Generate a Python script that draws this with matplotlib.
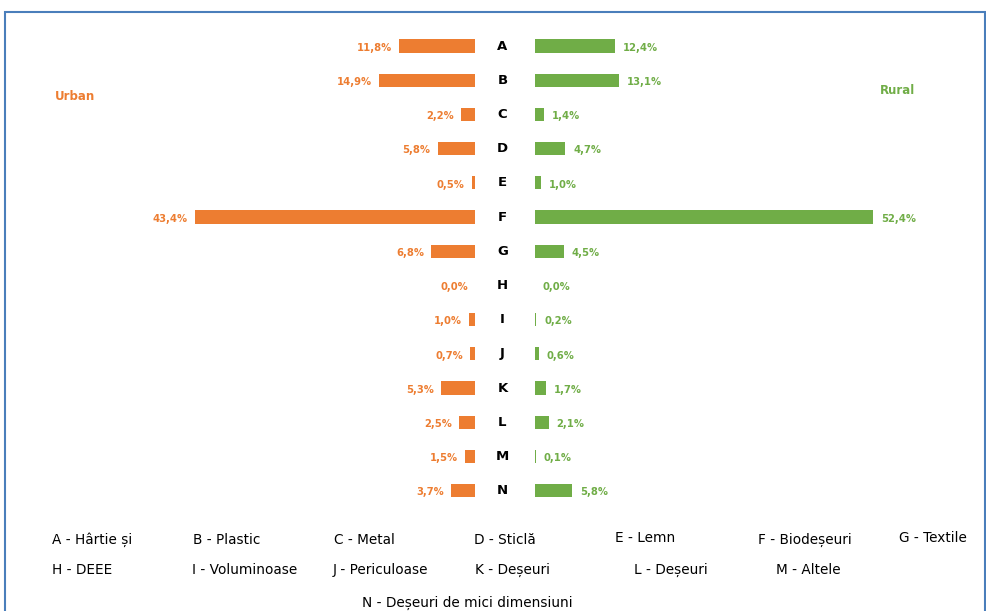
import matplotlib.pyplot as plt
from matplotlib.patches import Rectangle

# date: ponderea fracțiilor de deșeuri (%)
categorii = ["A", "B", "C", "D", "E", "F", "G", "H", "I", "J", "K", "L", "M", "N"]
urban = [11.8, 14.9, 2.2, 5.8, 0.5, 43.4, 6.8, 0.0, 1.0, 0.7, 5.3, 2.5, 1.5, 3.7]
rural = [12.4, 13.1, 1.4, 4.7, 1.0, 52.4, 4.5, 0.0, 0.2, 0.6, 1.7, 2.1, 0.1, 5.8]

legenda_r1 = ["A - Hârtie și", "B - Plastic", "C - Metal", "D - Sticlă", "E - Lemn", "F - Biodeșeuri", "G - Textile"]
legenda_r2 = ["H - DEEE", "I - Voluminoase", "J - Periculoase", "K - Deșeuri", "L - Deșeuri", "M - Altele"]
legenda_r3 = "N - Deșeuri de mici dimensiuni"

portocaliu = "#ED7D31"
verde = "#70AD47"

def fmt(v):
    return f"{v:.1f}%".replace(".", ",")

fig = plt.figure(figsize=(9.86, 6.11), dpi=100)
ax = fig.add_axes([0, 0, 1, 1])

# 1% = 6.45 px, centrul la x=505 px
scala = 6.45
gap = 30 / scala
ax.set_xlim(-505 / scala, 481 / scala)
ax.set_ylim((611 - 46) / 34.2, -46 / 34.2)
ax.axis("off")

y = list(range(len(categorii)))
ax.barh(y, urban, left=[-gap - u for u in urban], height=0.39, color=portocaliu)
ax.barh(y, rural, left=gap, height=0.39, color=verde)

for i, c in enumerate(categorii):
    ax.text(-0.4, i, c, ha="center", va="center", fontsize=9.5, fontweight="bold", color="black")
    ax.text(-gap - urban[i] - 1.1, i + 0.05, fmt(urban[i]), ha="right", va="center",
            fontsize=7.2, fontweight="bold", color=portocaliu)
    ax.text(gap + rural[i] + 1.2, i + 0.05, fmt(rural[i]), ha="left", va="center",
            fontsize=7.2, fontweight="bold", color=verde)

fig.text(55 / 986, 1 - 97 / 611, "Urban", color=portocaliu, fontsize=8.5, fontweight="bold", va="center")
fig.text(880 / 986, 1 - 91 / 611, "Rural", color=verde, fontsize=8.5, fontweight="bold", va="center")

# legenda de jos
x1 = [52, 193, 334, 474, 615, 758, 899]
y1 = [540, 540, 540, 540, 538, 540, 538]
for t, xx, yy in zip(legenda_r1, x1, y1):
    fig.text(xx / 986, 1 - yy / 611, t, fontsize=9.8, va="center")
x2 = [52, 192, 333, 475, 634, 776]
for t, xx in zip(legenda_r2, x2):
    fig.text(xx / 986, 1 - 570 / 611, t, fontsize=9.8, va="center")
fig.text(362 / 986, 1 - 603 / 611, legenda_r3, fontsize=9.8, va="center")

# chenarul graficului
fig.patches.append(Rectangle((5 / 986, -0.05), 980 / 986, 1.05 - 12 / 611, transform=fig.transFigure,
                             fill=False, edgecolor="#4A7EBB", linewidth=1.5))

fig.savefig("out.png", dpi=100)
